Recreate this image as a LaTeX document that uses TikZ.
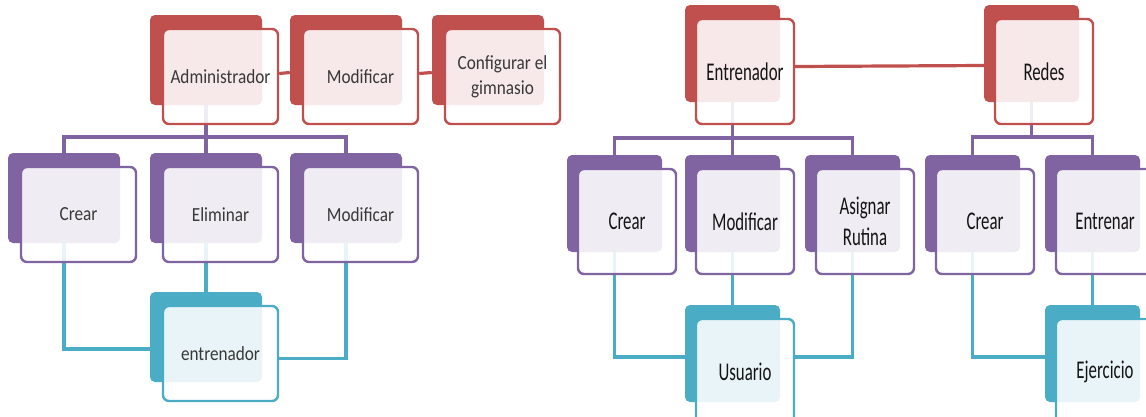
\documentclass[tikz,border=0pt]{standalone}
\usepackage{fontspec}
\setmainfont{Carlito}
\newfontfamily\leftfont[FakeStretch=0.86]{Carlito}
\newfontfamily\rightfont[FakeStretch=0.66]{Carlito}
\usetikzlibrary{positioning,calc,backgrounds}
\definecolor{red}{HTML}{C0504D}
\definecolor{purple}{HTML}{8064A2}
\definecolor{teal}{HTML}{4BACC6}

\begin{document}
\begin{tikzpicture}[x=1pt, y=-1pt,
    lback/.style={rectangle, rounded corners=5pt, minimum width=112pt, minimum height=90pt, inner sep=0pt},
    lfront/.style={rectangle, rounded corners=6pt, line width=2.4pt, fill=white, fill opacity=0.88,
                   text opacity=1, minimum width=115pt, minimum height=95pt, align=center, inner sep=2pt,
                   font=\leftfont\fontsize{20}{25}\selectfont, text=black!78},
    rback/.style={rectangle, rounded corners=5pt, minimum width=95pt, minimum height=97pt, inner sep=0pt},
    rfront/.style={rectangle, rounded corners=6pt, line width=2.4pt, fill=white, fill opacity=0.88,
                   text opacity=1, minimum width=98pt, minimum height=105pt, align=center, inner sep=2pt,
                   font=\rightfont\fontsize{25.5}{31}\selectfont, text=black!92},
    link/.style={line width=3.2pt}
  ]
    \useasboundingbox (0,0) rectangle (1146,416);
    \clip (0,0) rectangle (1146,416);

    % Left: Administrador
    \node[lback, fill=red] (admB) at (206,60) {};
    \node[lfront, draw=red, below right=13pt and 12pt of admB.north west] (adm) {Administrador};
    \node[lback, fill=red] (modB) at (346,60) {};
    \node[lfront, draw=red, below right=13pt and 12pt of modB.north west] (mod) {Modificar};
    \node[lback, fill=red] (cfgB) at (488,60) {};
    \node[lfront, draw=red, below right=13pt and 12pt of cfgB.north west] (cfg) {Configurar el\\gimnasio};

    % Left: actions
    \node[lback, fill=purple] (crearB) at (64,198) {};
    \node[lfront, draw=purple, below right=13pt and 12pt of crearB.north west] (crear) {Crear};
    \node[lback, fill=purple] (elimB) at (206,198) {};
    \node[lfront, draw=purple, below right=13pt and 12pt of elimB.north west] (elim) {Eliminar};
    \node[lback, fill=purple] (modifB) at (346,198) {};
    \node[lfront, draw=purple, below right=13pt and 12pt of modifB.north west] (modif) {Modificar};

    % Left: entrenador
    \node[lback, fill=teal] (entB) at (206,337) {};
    \node[lfront, draw=teal, below right=13pt and 12pt of entB.north west] (ent) {entrenador};

    % Right: Entrenador and Redes
    \node[rback, fill=red] (entrB) at (732.5,53.5) {};
    \node[rfront, draw=red, below right=13pt and 10pt of entrB.north west] (entr) {Entrenador};
    \node[rback, fill=red] (redesB) at (1031.5,53.5) {};
    \node[rfront, draw=red, below right=13pt and 10pt of redesB.north west] (redes) {Redes};

    % Right: actions
    \node[rback, fill=purple] (crearRB) at (614.5,203.5) {};
    \node[rfront, draw=purple, below right=13pt and 10pt of crearRB.north west] (crearR) {Crear};
    \node[rback, fill=purple] (modRB) at (732.5,203.5) {};
    \node[rfront, draw=purple, below right=13pt and 10pt of modRB.north west] (modR) {Modificar};
    \node[rback, fill=purple] (asigB) at (852.5,203.5) {};
    \node[rfront, draw=purple, below right=13pt and 10pt of asigB.north west] (asig) {Asignar\\Rutina};
    \node[rback, fill=purple] (crear2B) at (972.5,203.5) {};
    \node[rfront, draw=purple, below right=13pt and 10pt of crear2B.north west] (crear2) {Crear};
    \node[rback, fill=purple] (entrenarB) at (1092.5,203.5) {};
    \node[rfront, draw=purple, below right=13pt and 10pt of entrenarB.north west] (entrenar) {Entrenar};

    % Right: Usuario and Ejercicio
    \node[rback, fill=teal] (usuB) at (732.5,353.5) {};
    \node[rfront, draw=teal, below right=13pt and 10pt of usuB.north west] (usu) {Usuario};
    \node[rback, fill=teal] (ejerB) at (1092.5,353.5) {};
    \node[rfront, draw=teal, below right=13pt and 10pt of ejerB.north west] (ejer) {Ejercicio};

    \coordinate (busL) at (206,137);
    \coordinate (busR) at (732.5,138);
    \coordinate (busN) at (1031.5,137);

    \begin{pgfonlayer}{background}
      % left connectors
      \draw[link, red] ([yshift=3pt]adm.east) -- ([yshift=-12.5pt]modB.west);
      \draw[link, red] ([yshift=3pt]mod.east) -- ([yshift=-12.5pt]cfgB.west);
      \draw[link, purple] (admB.south) -- (elimB.north);
      \draw[link, purple] (crearB.north) |- (busL) -| (modifB.north);
      \draw[link, teal] (crearB.south) |- ([yshift=-12pt]entB.west);
      \draw[link, teal] (elimB.south) -- (entB.north);
      \draw[link, teal] (modifB.south) |- ([yshift=-5pt]ent.east);
      % right connectors
      \draw[link, red] ([yshift=5pt]entr.east) -- ([yshift=-12pt]redesB.west);
      \draw[link, purple] (entrB.south) -- (modRB.north);
      \draw[link, purple] (crearRB.north) |- (busR) -| (asigB.north);
      \draw[link, purple] (redesB.south) -- (busN);
      \draw[link, purple] (crear2B.north) |- (busN) -| (entrenarB.north);
      \draw[link, teal] (crearRB.south) |- ([yshift=-3.5pt]usuB.west);
      \draw[link, teal] (modRB.south) -- (usuB.north);
      \draw[link, teal] (asigB.south) |- ([xshift=12pt,yshift=-3.5pt]usuB.east);
      \draw[link, teal] (crear2B.south) |- ([yshift=-3.5pt]ejerB.west);
      \draw[link, teal] (entrenarB.south) -- (ejerB.north);
    \end{pgfonlayer}
  \end{tikzpicture}
\end{document}
